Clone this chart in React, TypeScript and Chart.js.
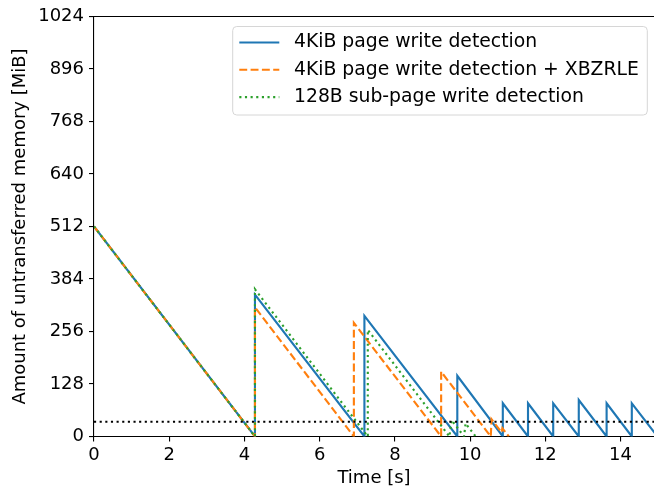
import React, { useEffect, useRef } from "react";
import { Chart, registerables } from "chart.js";

Chart.register(...registerables);

// ---- data ----
const seriesLabels = [
  "4KiB page write detection",
  "4KiB page write detection + XBZRLE",
  "128B sub-page write detection",
];

const pageTimes = [0, 4.28, 4.28, 7.19, 7.19, 9.66, 9.66, 10.87, 10.87, 11.54, 11.54, 12.21, 12.21, 12.89, 12.89, 13.63, 13.63, 14.3, 14.3, 14.98];
const pageValues = [512, 0, 346, 0, 294, 0, 148, 0, 81, 0, 81, 0, 81, 0, 89, 0, 81, 0, 81, 0];

const xbzrleTimes = [0, 4.28, 4.28, 6.91, 6.91, 9.23, 9.23, 10.55, 10.57, 10.84, 10.86, 11.03];
const xbzrleValues = [512, 0, 315, 0, 277, 0, 158, 0, 42, 10, 20, 0];

const subPageTimes = [0, 4.28, 4.28, 7.28, 7.28, 9.45, 9.51, 9.84, 9.88, 10.15];
const subPageValues = [512, 0, 359, 0, 260, 0, 40, 0, 32, 0];

const thresholdTimes = [0, 14.89];
const thresholdValues = [36, 36];

const xTickStep = 2;
const xMin = 0;
const xMax = 14.89;
const yTickStep = 128;
const yMin = 0;
const yMax = 1024;

const xTitle = "Time [s]";
const yTitle = "Amount of untransferred memory [MiB]";

// ---- styles ----
const FONT = '"DejaVu Sans", Verdana, sans-serif';
const LW = 2.13;
const colors = ["#1f77b4", "#ff7f0e", "#2ca02c"];
const dashes = [[], [7.9, 3.4], [2.13, 3.51]];

const toPoints = (xs: number[], ys: number[]) => xs.map((x, i) => ({ x, y: ys[i] }));

const topSpinePlugin = {
  id: "topSpine",
  afterDraw(chart: any) {
    const { ctx, chartArea } = chart;
    ctx.save();
    ctx.strokeStyle = "#000";
    ctx.lineWidth = 1.1;
    ctx.setLineDash([]);
    ctx.beginPath();
    ctx.moveTo(chartArea.left, chartArea.top);
    ctx.lineTo(chartArea.right + 2, chartArea.top);
    ctx.stroke();
    ctx.restore();
  },
};

const legendPlugin = {
  id: "mplLegend",
  afterDraw(chart: any) {
    const { ctx, chartArea } = chart;
    const x1 = chartArea.right - 6.7;
    const x0 = x1 - 414.6;
    const y0 = chartArea.top + 10;
    const y1 = y0 + 88.5;
    const r = 4;
    ctx.save();
    ctx.beginPath();
    ctx.moveTo(x0 + r, y0);
    ctx.lineTo(x1 - r, y0);
    ctx.quadraticCurveTo(x1, y0, x1, y0 + r);
    ctx.lineTo(x1, y1 - r);
    ctx.quadraticCurveTo(x1, y1, x1 - r, y1);
    ctx.lineTo(x0 + r, y1);
    ctx.quadraticCurveTo(x0, y1, x0, y1 - r);
    ctx.lineTo(x0, y0 + r);
    ctx.quadraticCurveTo(x0, y0, x0 + r, y0);
    ctx.closePath();
    ctx.fillStyle = "rgba(255,255,255,0.8)";
    ctx.fill();
    ctx.strokeStyle = "#d6d6d6";
    ctx.lineWidth = 1;
    ctx.stroke();

    const rowY = [y0 + 16, y0 + 43.3, y0 + 70.6];
    for (let i = 0; i < seriesLabels.length; i++) {
      const y = rowY[i];
      ctx.beginPath();
      ctx.setLineDash(dashes[i]);
      ctx.strokeStyle = colors[i];
      ctx.lineWidth = LW;
      ctx.lineCap = "butt";
      ctx.moveTo(x0 + 6.6, y);
      ctx.lineTo(x0 + 46.6, y);
      ctx.stroke();
      ctx.setLineDash([]);
      ctx.fillStyle = "#000";
      ctx.font = `18.8px ${FONT}`;
      ctx.textBaseline = "middle";
      ctx.textAlign = "left";
      ctx.fillText(seriesLabels[i], x0 + 61.3, y);
    }
    ctx.restore();
  },
};

export default function App() {
  const canvasRef = useRef<HTMLCanvasElement | null>(null);

  useEffect(() => {
    document.body.style.margin = "0";
    const canvas = canvasRef.current;
    if (!canvas) return;

    const lineDs = (label: string, xs: number[], ys: number[], i: number, order: number) => ({
      label,
      data: toPoints(xs, ys),
      borderColor: colors[i],
      backgroundColor: colors[i],
      borderWidth: LW,
      borderDash: dashes[i],
      borderCapStyle: "butt" as const,
      borderJoinStyle: "miter" as const,
      pointRadius: 0,
      pointHoverRadius: 0,
      tension: 0,
      fill: false,
      order,
    });

    const chart = new Chart(canvas, {
      type: "line",
      data: {
        datasets: [
          {
            label: "threshold",
            data: toPoints(thresholdTimes, thresholdValues),
            borderColor: "#000",
            borderWidth: LW,
            borderDash: [2.13, 3.51],
            borderCapStyle: "butt",
            pointRadius: 0,
            tension: 0,
            fill: false,
            order: 0,
          } as any,
          lineDs(seriesLabels[2], subPageTimes, subPageValues, 2, 1),
          lineDs(seriesLabels[1], xbzrleTimes, xbzrleValues, 1, 2),
          lineDs(seriesLabels[0], pageTimes, pageValues, 0, 3),
        ],
      },
      options: {
        animation: false,
        responsive: false,
        devicePixelRatio: 1,
        events: [],
        layout: { padding: { top: 16.5, right: 0, bottom: 0, left: 0 } },
        plugins: {
          legend: { display: false },
          tooltip: { enabled: false },
        },
        scales: {
          x: {
            type: "linear",
            min: xMin,
            max: xMax,
            afterFit: (scale: any) => {
              scale.height = 56.5;
            },
            ticks: {
              stepSize: xTickStep,
              includeBounds: false,
              color: "#000",
              font: { family: FONT, size: 18 },
              padding: 3,
              maxRotation: 0,
              autoSkip: false,
              callback: (v: any) => String(v),
            },
            grid: {
              display: true,
              drawOnChartArea: false,
              drawTicks: true,
              tickLength: 5,
              color: "#000",
              lineWidth: 1.1,
            },
            border: { display: true, color: "#000", width: 1.1 },
            title: {
              display: true,
              text: xTitle,
              color: "#000",
              font: { family: FONT, size: 18 },
              padding: { top: 0, bottom: 4.2 },
            },
          },
          y: {
            type: "linear",
            min: yMin,
            max: yMax,
            afterFit: (scale: any) => {
              scale.width = 94;
            },
            ticks: {
              stepSize: yTickStep,
              color: "#000",
              font: { family: FONT, size: 18 },
              padding: 5,
              autoSkip: false,
              callback: (v: any) => String(v),
            },
            grid: {
              display: true,
              drawOnChartArea: false,
              drawTicks: true,
              tickLength: 5,
              color: "#000",
              lineWidth: 1.1,
            },
            border: { display: true, color: "#000", width: 1.1 },
            title: {
              display: true,
              text: yTitle,
              color: "#000",
              font: { family: FONT, size: 18 },
              padding: { top: 9.2, bottom: 0 },
            },
          },
        },
      },
      plugins: [topSpinePlugin, legendPlugin],
    });

    return () => {
      chart.destroy();
    };
  }, []);

  return (
    <div style={{ width: 654, height: 493, background: "#fff" }}>
      <canvas ref={canvasRef} width={654} height={493} style={{ display: "block" }} />
    </div>
  );
}
